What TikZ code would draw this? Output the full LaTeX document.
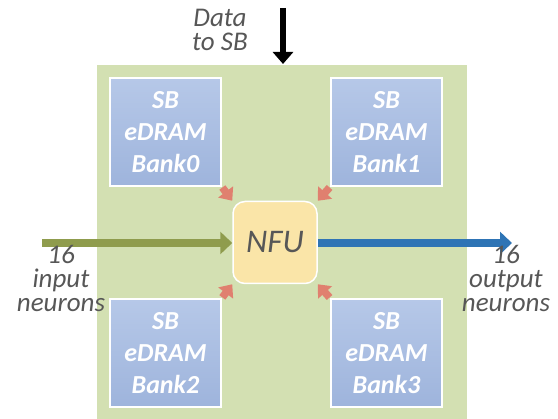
\documentclass[tikz,border=0pt]{standalone}
\usepackage{fontspec}
\setmainfont{Carlito}
\usetikzlibrary{arrows.meta}
\definecolor{bgg}{HTML}{D3E0B2}
\definecolor{bankTop}{HTML}{B6C8E8}
\definecolor{bankBot}{HTML}{9EB4DC}
\definecolor{nfuY}{HTML}{FAE5A8}
\definecolor{txtg}{HTML}{575757}
\definecolor{oliveA}{HTML}{8F9C4D}
\definecolor{blueA}{HTML}{2E74B5}
\definecolor{redA}{HTML}{E0806F}
\tikzset{
  bank/.style={draw=white, line width=1.5pt, top color=bankTop, bottom color=bankBot,
    minimum width=111pt, minimum height=108pt, inner sep=0pt, text=white, align=center,
    font=\fontsize{26}{32}\selectfont\bfseries\itshape},
  nfubox/.style={draw=white, line width=1.5pt, fill=nfuY, rounded corners=12pt,
    minimum width=84pt, minimum height=82pt, inner sep=0pt, text=txtg,
    font=\fontsize{33}{36}\selectfont\itshape},
  lbl/.style={text=txtg, align=center, inner sep=0pt, font=\fontsize{27}{24}\selectfont\itshape},
  redarrow/.style={draw=redA, line width=7.5pt, -{Triangle[width=18pt,length=11pt]}, shorten <=1pt},
}
\begin{document}
\begin{tikzpicture}[x=1pt,y=-1pt]
\useasboundingbox (0,0) rectangle (558,419);
\fill[bgg] (97,65) rectangle (467,419);
\node[nfubox] (nfu) at (275,242.5) {NFU};
\node[bank] (b0) at (165.5,132) {SB\\eDRAM\\Bank0};
\node[bank] (b1) at (386.5,132) {SB\\eDRAM\\Bank1};
\node[bank] (b2) at (165.5,353) {SB\\eDRAM\\Bank2};
\node[bank] (b3) at (386.5,353) {SB\\eDRAM\\Bank3};
\draw[redarrow] (b0.south east) -- (nfu.north west);
\draw[redarrow] (b1.south west) -- (nfu.north east);
\draw[redarrow] (b2.north east) -- (nfu.south west);
\draw[redarrow] (b3.north west) -- (nfu.south east);
\coordinate (inL) at (42,243);
\coordinate (outR) at (512,243);
\coordinate (dtop) at (283,8);
\coordinate (dbot) at (283,64);
\draw[draw=oliveA, line width=8pt, -{Triangle[width=22pt,length=12pt]}] (inL) -- (nfu.west |- inL);
\draw[draw=blueA, line width=8pt, -{Triangle[width=22pt,length=12pt]}] (nfu.east |- outR) -- (outR);
\draw[draw=black, line width=6.5pt, -{Triangle[width=20pt,length=12pt]}] (dtop) -- (dbot);
\node[lbl, anchor=base] (lin) at (61,312) {16\\input\\neurons};
\node[lbl, anchor=base] (lout) at (506,312) {16\\output\\neurons};
\node[lbl, anchor=base] (ldata) at (220,51) {Data\\to SB};
\end{tikzpicture}
\end{document}
